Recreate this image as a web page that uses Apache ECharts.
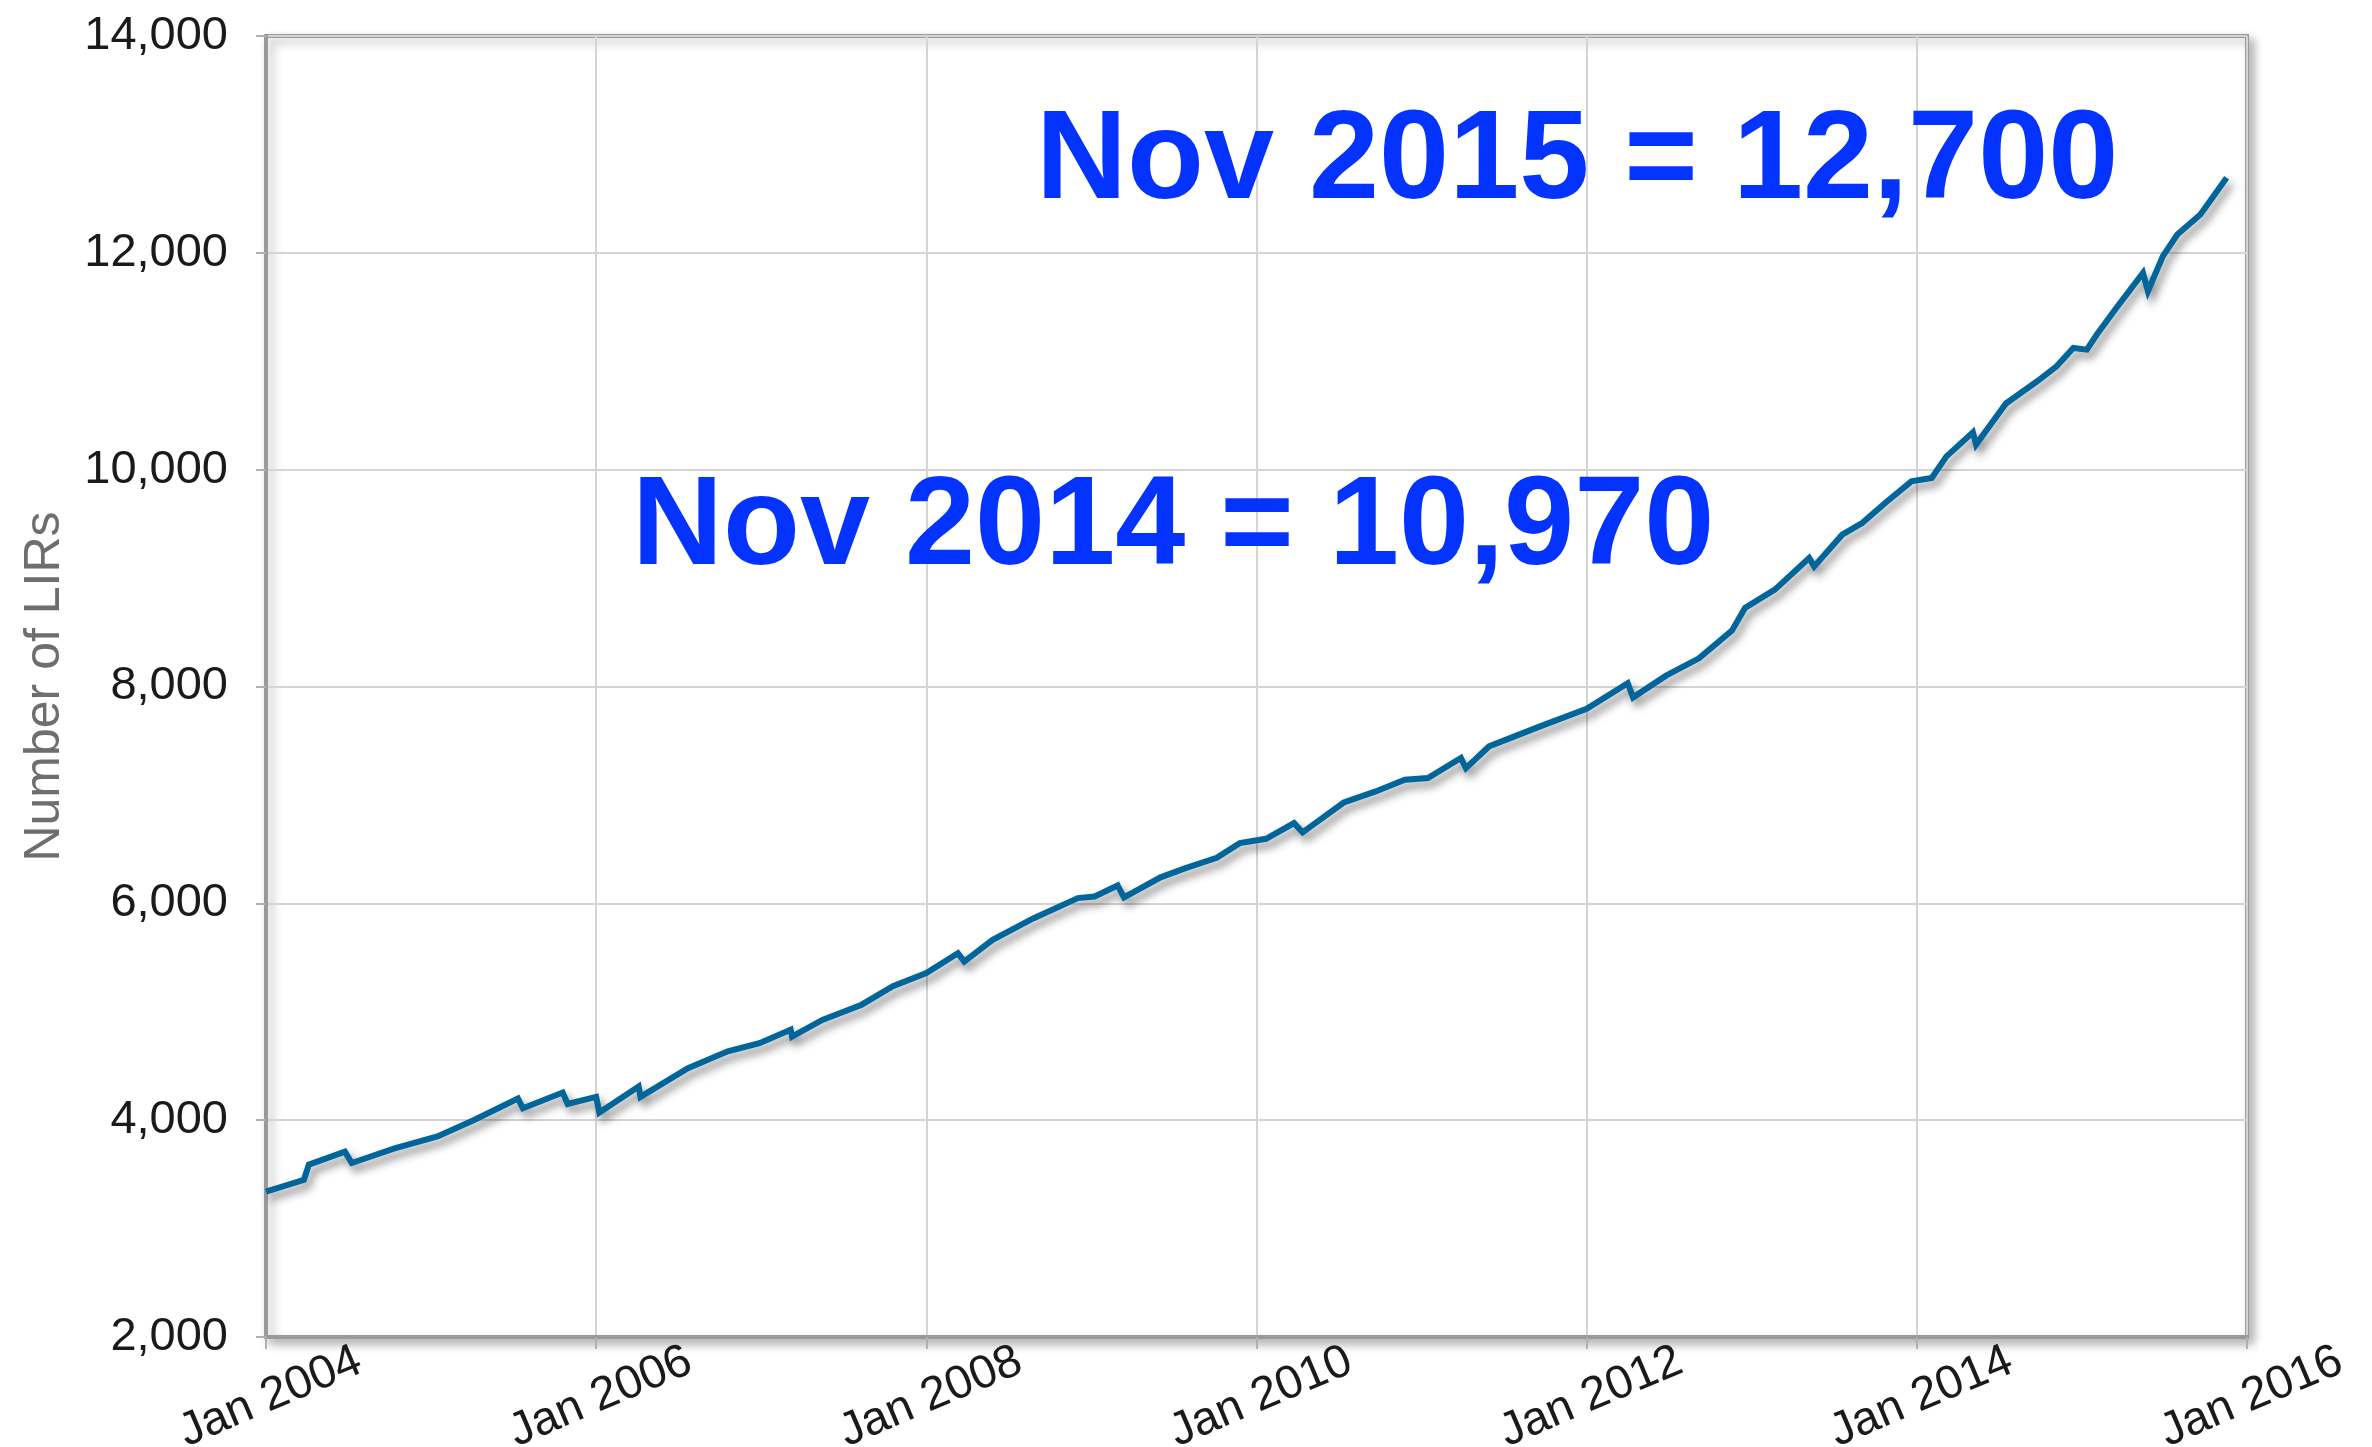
<!DOCTYPE html>
<html>
<head>
<meta charset="utf-8">
<script src="https://cdn.jsdelivr.net/npm/echarts@6/dist/echarts.min.js"></script>
<style>
html,body{margin:0;padding:0;background:#fff;}
#chart{width:2372px;height:1447px;}
</style>
</head>
<body>
<div id="chart"></div>
<script>
// ---- Data ----
const dates = [
  '2004-01-01','2004-03-25','2004-04-05','2004-06-24','2004-07-09','2004-10-12',
  '2005-01-15','2005-04-05','2005-07-12','2005-07-23','2005-10-19','2005-10-30',
  '2006-01-01','2006-01-08','2006-04-05','2006-04-09','2006-07-23','2006-10-19','2006-12-28',
  '2007-03-07','2007-03-10','2007-05-16','2007-08-11','2007-10-19',
  '2008-01-01','2008-03-11','2008-03-25','2008-05-27','2008-08-26','2008-12-02',
  '2009-01-08','2009-02-28','2009-03-14','2009-06-03','2009-07-28','2009-10-05','2009-11-25',
  '2010-01-22','2010-03-25','2010-04-13','2010-07-13','2010-09-20','2010-11-25',
  '2011-01-15','2011-03-29','2011-04-09','2011-05-30','2011-09-20',
  '2012-01-01','2012-04-01','2012-04-13','2012-06-25','2012-09-06','2012-11-18','2012-12-17',
  '2013-02-21','2013-05-08','2013-05-19','2013-07-20','2013-09-02','2013-10-23','2013-12-20',
  '2014-02-03','2014-03-07','2014-05-05','2014-05-12','2014-07-17','2014-09-24','2014-11-06','2014-12-13',
  '2015-01-12','2015-02-03','2015-03-18','2015-05-16','2015-05-27','2015-06-29','2015-07-31','2015-09-20','2015-11-17'
];
const lirCounts = [
  3340,3450,3590,3710,3605,3740,
  3850,4000,4200,4110,4255,4150,
  4215,4070,4310,4215,4480,4635,4710,
  4835,4770,4925,5065,5235,
  5356,5540,5463,5663,5863,6048,
  6063,6165,6055,6240,6324,6420,6555,
  6595,6740,6655,6930,7030,7140,
  7155,7340,7247,7447,7632,
  7795,8031,7900,8100,8260,8515,8725,
  8893,9185,9108,9400,9508,9692,9892,
  9923,10120,10345,10231,10610,10815,10953,11123,
  11107,11246,11492,11815,11646,11969,12169,12354,12692
];
const yTicks = [2000, 4000, 6000, 8000, 10000, 12000, 14000];
const xTickYears = [2004, 2006, 2008, 2010, 2012, 2014, 2016];
const yAxisTitle = 'Number of LIRs';
const annotations = ['Nov 2015 = 12,700', 'Nov 2014 = 10,970'];

// convert date string to decimal year
function toYear(s) {
  const [y, m, d] = s.split('-').map(Number);
  const start = Date.UTC(y, 0, 1), end = Date.UTC(y + 1, 0, 1);
  return y + (Date.UTC(y, m - 1, d) - start) / (end - start);
}
const seriesData = dates.map((d, i) => [toYear(d), lirCounts[i]]);

const chart = echarts.init(document.getElementById('chart'));
const FONT = '"Liberation Sans", Arial, Helvetica, sans-serif';
chart.setOption({
  animation: false,
  backgroundColor: '#ffffff',
  grid: {
    left: 266, right: 125, top: 36, bottom: 110,
    containLabel: false,
    outerBoundsMode: 'none',
    show: true,
    backgroundColor: '#ffffff',
    borderColor: '#9a9a9a',
    borderWidth: 4,
    shadowColor: 'rgba(0,0,0,0.28)',
    shadowBlur: 10,
    shadowOffsetX: 5,
    shadowOffsetY: 5
  },
  xAxis: {
    type: 'value',
    min: xTickYears[0],
    max: xTickYears[xTickYears.length - 1],
    interval: 2,
    axisLine: { show: true, lineStyle: { color: '#9a9a9a', width: 4 } },
    axisTick: { show: true, length: 12, lineStyle: { color: '#b0b0b0', width: 2 } },
    splitLine: { show: true, lineStyle: { color: '#d4d4d4', width: 2 } },
    axisLabel: {
      rotate: 23,
      align: 'center',
      verticalAlign: 'middle',
      margin: 62,
      padding: [0, 0, 0, 10],
      fontFamily: FONT,
      fontSize: 47,
      color: '#1a1a1a',
      formatter: v => 'Jan ' + v
    }
  },
  yAxis: {
    type: 'value',
    min: yTicks[0],
    max: yTicks[yTicks.length - 1],
    interval: 2000,
    name: yAxisTitle,
    nameLocation: 'middle',
    nameGap: 196,
    nameTextStyle: { fontFamily: FONT, fontSize: 50, color: '#6e6e6e' },
    axisLine: { show: true, lineStyle: { color: '#9a9a9a', width: 4 } },
    axisTick: { show: true, length: 10, lineStyle: { color: '#b0b0b0', width: 2 } },
    splitLine: { show: true, lineStyle: { color: '#d4d4d4', width: 2 } },
    axisLabel: {
      margin: 38,
      fontFamily: FONT,
      fontSize: 47,
      color: '#1a1a1a',
      formatter: v => v.toLocaleString('en-US')
    }
  },
  series: [{
    type: 'line',
    data: seriesData,
    showSymbol: false,
    symbol: 'none',
    lineStyle: {
      color: '#00659b',
      width: 6,
      join: 'miter',
      shadowColor: 'rgba(0,0,0,0.45)',
      shadowBlur: 8,
      shadowOffsetX: 4,
      shadowOffsetY: 6
    },
    z: 5
  }],
  graphic: [
    {
      type: 'text', left: 1036, top: 100, z: 10,
      style: { text: annotations[0], font: 'bold 126px ' + FONT, fill: '#0433ff' }
    },
    {
      type: 'text', left: 632, top: 466, z: 10,
      style: { text: annotations[1], font: 'bold 126px ' + FONT, fill: '#0433ff' }
    }
  ]
});
</script>
</body>
</html>
